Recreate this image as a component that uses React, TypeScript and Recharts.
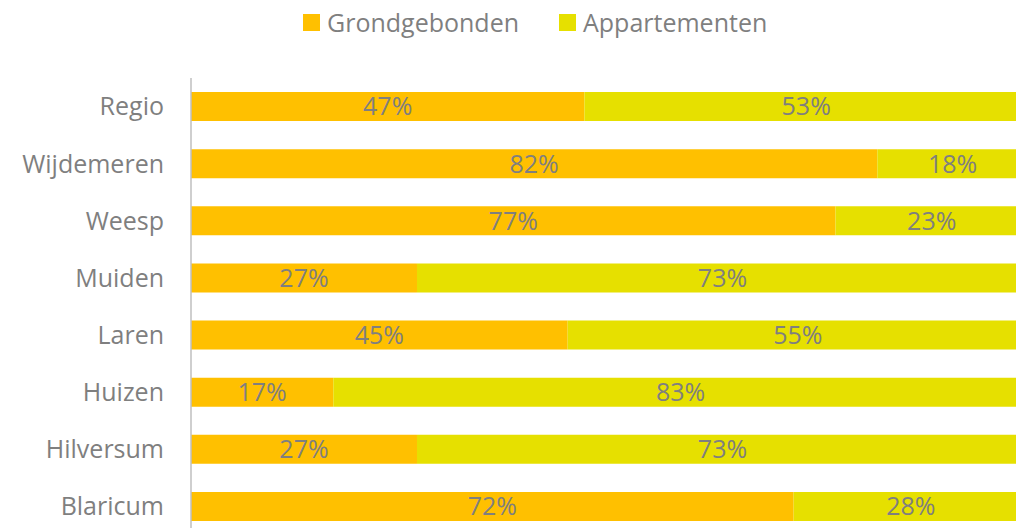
import { BarChart, Bar, XAxis, YAxis, Legend, LabelList } from "recharts";

const categories = ["Regio", "Wijdemeren", "Weesp", "Muiden", "Laren", "Huizen", "Hilversum", "Blaricum"];
const grondgebonden = [47, 82, 77, 27, 45, 17, 27, 72];
const appartementen = [53, 18, 23, 73, 55, 83, 73, 28];

const seriesNames = ["Grondgebonden", "Appartementen"];
const colors = ["#FFC000", "#E6E000"];

const data = categories.map((c, i) => ({
  name: c,
  grond: grondgebonden[i],
  app: appartementen[i],
}));

const textColor = "#7F7F7F";
const font = "'Open Sans', 'Noto Sans', sans-serif";

function LegendBox() {
  return (
    <div style={{ display: "flex", alignItems: "center", fontFamily: font, fontSize: 25, color: textColor }}>
      {seriesNames.map((n, i) => (
        <div key={n} style={{ display: "flex", alignItems: "center", marginRight: i === 0 ? 40 : 0 }}>
          <span style={{ width: 17, height: 17, background: colors[i], display: "inline-block", marginRight: 7 }} />
          <span>{n}</span>
        </div>
      ))}
    </div>
  );
}

export default function App() {
  return (
    <div style={{ position: "fixed", left: 0, top: 0, width: 1016, height: 528, overflow: "hidden", background: "#fff" }}>
      <BarChart
        width={1040}
        height={545}
        data={data}
        layout="vertical"
        margin={{ top: 38, right: 12, bottom: 10, left: 0 }}
        barSize={29}
      >
        <Legend
          verticalAlign="top"
          align="left"
          content={() => <LegendBox />}
          wrapperStyle={{ top: 5, left: 303, width: 500, height: 40 }}
        />
        <XAxis type="number" domain={[0, 100]} hide />
        <YAxis
          type="category"
          dataKey="name"
          width={191}
          axisLine={{ stroke: "#BFBFBF", strokeWidth: 1.5 }}
          tickLine={false}
          tickMargin={21}
          tick={{ fill: textColor, fontSize: 25, fontFamily: font }}
        />
        <Bar dataKey="grond" stackId="a" fill={colors[0]} isAnimationActive={false}>
          <LabelList dataKey="grond" position="center" formatter={(v: any) => `${v}%`} fill={textColor} style={{ fontSize: 25, fontFamily: font }} />
        </Bar>
        <Bar dataKey="app" stackId="a" fill={colors[1]} isAnimationActive={false}>
          <LabelList dataKey="app" position="center" formatter={(v: any) => `${v}%`} fill={textColor} style={{ fontSize: 25, fontFamily: font }} />
        </Bar>
      </BarChart>
    </div>
  );
}
